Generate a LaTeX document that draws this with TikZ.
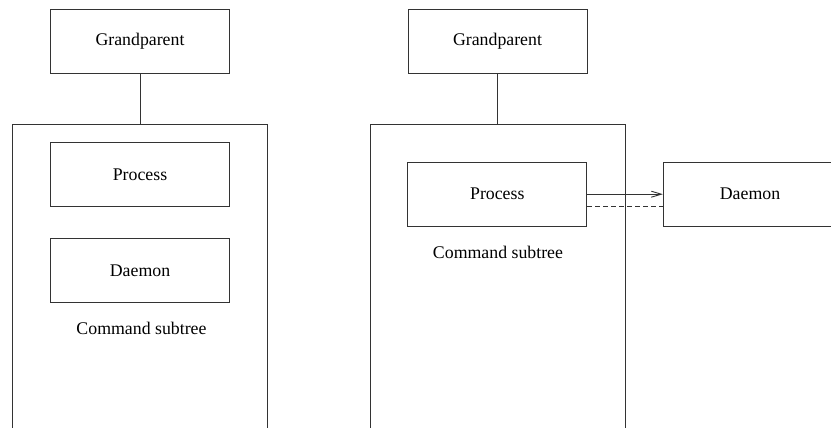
\documentclass[tikz,border=0pt]{standalone}
\usepackage{fontspec}
\setmainfont{Liberation Serif}
\usetikzlibrary{arrows.meta}
\begin{document}
\begin{tikzpicture}[x=1pt,y=-1pt,
  line width=0.9pt, draw=black!80,
  every node/.style={font=\fontsize{17.8}{20}\selectfont, inner sep=0pt},
  box/.style={draw, minimum width=179pt, minimum height=64pt},
  subtree/.style={draw, minimum width=255pt, minimum height=330pt, anchor=north},
  label/.style={},
  link/.style={-},
  call/.style={-{Straight Barb[length=10pt,width=6pt,line width=0.9pt]}},
  ret/.style={dashed, dash pattern=on 4.5pt off 3.5pt}]
  \clip (0,0) rectangle (831,428);

  % left: daemon stays inside the command subtree
  \node[box] (gpA) at (140,41.5) {Grandparent};
  \node[subtree] (treeA) at (140,124) {};
  \node[box] (procA) at (140,174.7) {Process};
  \node[box] (daemA) at (140,270.3) {Daemon};
  \node[label] (cmdA) at (141.5,328) {Command subtree};
  \draw[link] (gpA.south) -- (treeA.north);

  % right: daemon detached from the command subtree
  \node[box] (gpB) at (497.5,41.5) {Grandparent};
  \node[subtree] (treeB) at (497.5,124) {};
  \node[box] (procB) at (497.3,194.2) {Process};
  \node[box, minimum width=186pt] (daemB) at (756.3,194.2) {};
  \node (daemBtext) at (750,194.2) {Daemon};
  \node[label] (cmdB) at (498,252) {Command subtree};
  \draw[link] (gpB.south) -- (treeB.north);
  \draw[call] (procB.east) -- (daemB.west);
  \draw[ret] ([yshift=-12.5pt]procB.east) -- ([yshift=-12.5pt]daemB.west);
\end{tikzpicture}
\end{document}
